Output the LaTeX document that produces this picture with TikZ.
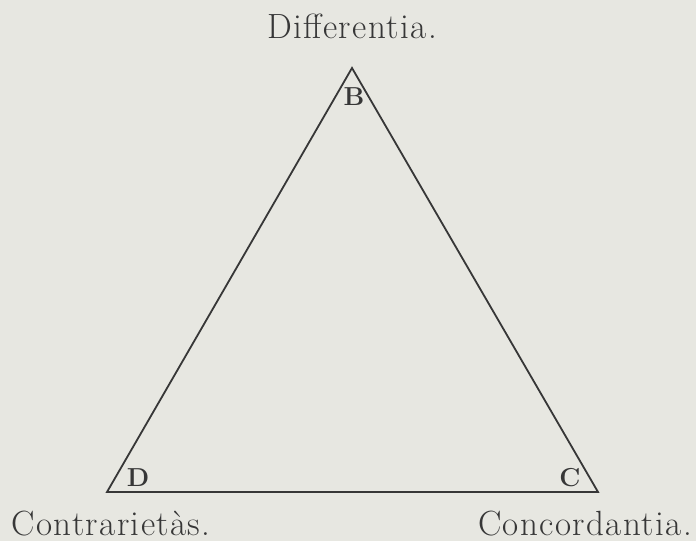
\documentclass[tikz,border=0pt]{standalone}
\usepackage{fontspec}
\setmainfont{Latin Modern Roman}
\newfontfamily\spacedfont[LetterSpace=4]{Latin Modern Roman}
\definecolor{paper}{RGB}{231,231,225}
\definecolor{ink}{RGB}{55,55,55}
\begin{document}
\begin{tikzpicture}[x=1pt,y=-1pt,
  edge/.style={draw=ink,line width=1.8pt,line join=miter},
  caption/.style={text=ink,anchor=base,inner sep=0pt,font=\spacedfont\fontsize{35}{40}\selectfont},
  corner/.style={text=ink,anchor=center,inner sep=0pt,font=\fontsize{26}{30}\selectfont\bfseries}]
\fill[paper] (0,0) rectangle (696,541);
\useasboundingbox (0,0) rectangle (696,541);
\coordinate (B) at (352,68);
\coordinate (C) at (598,492);
\coordinate (D) at (107,492);
\draw[edge] (B) -- (C) -- (D) -- cycle;
\node[corner] (lb) at (354,97) {B};
\node[corner] (ld) at (138,478) {D};
\node[corner] (lc) at (570,478) {C};
\node[caption] (tb) at (352,38) {Differentia.};
\node[caption] (td) at (111,535) {Contrarietàs.};
\node[caption] (tc) at (585,535) {Concordantia.};
\end{tikzpicture}
\end{document}
